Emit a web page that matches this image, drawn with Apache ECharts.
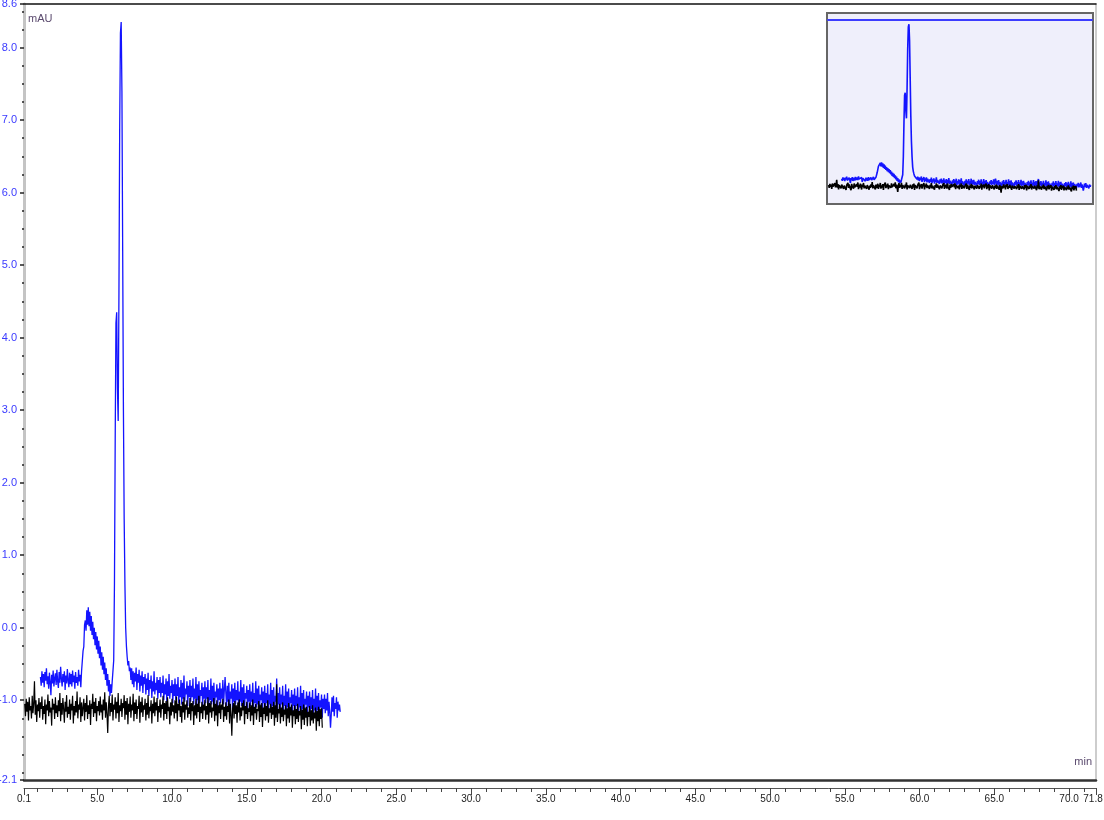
<!DOCTYPE html>
<html>
<head>
<meta charset="utf-8">
<script src="https://cdn.jsdelivr.net/npm/echarts@6/dist/echarts.min.js"></script>
<style>
html,body{margin:0;padding:0;background:#fff;}
#chart{width:1104px;height:820px;}
</style>
</head>
<body>
<div id="chart"></div>
<script>
// ---- axes ----
const xMin = 0.1, xMax = 71.8;
const yMin = -2.1, yMax = 8.6;
const xTickLabels = [0.1, 5, 10, 15, 20, 25, 30, 35, 40, 45, 50, 55, 60, 65, 70, 71.8];
const yTickLabels = [-2.1, -1, 0, 1, 2, 3, 4, 5, 6, 7, 8, 8.6];
const xMinorStep = 1;
const yMinorStep = 0.25;
const insetXMax = 21.3;
const yUnit = 'mAU';
const xUnit = 'min';

// ---- blue trace (sampled every 0.05 min from 1.2 min) ----
const blueStart = 1.2, blueStep = 0.05;
const blueValues = [
-0.68,-0.80,-0.60,-0.76,-0.64,-0.82,-0.61,-0.73,-0.56,-0.78,-0.67,-0.84,-0.62,-0.75,-0.93,-0.65,-0.77,-0.59,-0.81,-0.70,
-0.63,-0.79,-0.58,-0.74,-0.83,-0.61,-0.76,-0.54,-0.70,-0.81,-0.64,-0.75,-0.60,-0.86,-0.66,-0.77,-0.57,-0.73,-0.82,-0.62,
-0.78,-0.64,-0.81,-0.59,-0.75,-0.66,-0.84,-0.61,-0.76,-0.68,-0.80,-0.58,-0.74,-0.65,-0.82,-0.60,-0.58,-0.32,-0.26,0.04,
0.10,-0.04,0.24,0.04,0.28,0.02,0.22,-0.04,0.16,-0.10,0.08,-0.16,0.00,-0.24,-0.06,-0.30,-0.12,-0.36,-0.18,-0.42,
-0.26,-0.52,-0.34,-0.58,-0.40,-0.64,-0.48,-0.72,-0.56,-0.80,-0.64,-0.88,-0.72,-0.94,-0.78,-0.90,-0.74,-0.76,-0.45,0.6,
2.6,4.2,4.35,3.3,2.85,4.6,6.9,8.2,8.35,7.4,5.2,3.0,1.5,0.6,0.0,-0.25,-0.40,-0.52,-0.46,-0.60,
-0.55,-0.72,-0.56,-0.78,-0.60,-0.82,-0.62,-0.74,-0.55,-0.86,-0.64,-0.76,-0.58,-0.88,-0.66,-0.80,-0.60,-0.90,-0.68,-0.78,
-0.64,-0.92,-0.70,-0.86,-0.62,-0.94,-0.72,-0.84,-0.66,-0.97,-0.74,-0.88,-0.60,-0.92,-0.76,-0.86,-0.68,-0.98,-0.72,-0.90,
-0.68,-0.96,-0.76,-0.90,-0.66,-1.00,-0.78,-0.92,-0.70,-1.02,-0.74,-0.94,-0.64,-0.98,-0.80,-0.90,-0.72,-1.04,-0.78,-0.94,
-0.70,-1.00,-0.78,-0.94,-0.68,-1.04,-0.82,-0.96,-0.72,-1.06,-0.76,-0.98,-0.66,-1.02,-0.84,-0.92,-0.74,-1.08,-0.80,-0.96,
-0.72,-1.02,-0.80,-0.96,-0.70,-1.06,-0.84,-0.98,-0.68,-1.08,-0.78,-1.00,-0.74,-1.04,-0.86,-0.94,-0.76,-1.10,-0.82,-0.98,
-0.74,-1.04,-0.82,-0.98,-0.72,-1.08,-0.86,-1.00,-0.70,-1.06,-0.80,-1.02,-0.76,-1.08,-0.88,-0.96,-0.78,-1.12,-0.84,-1.00,
-0.76,-1.04,-0.84,-0.98,-0.72,-1.06,-0.86,-0.68,-0.90,-1.08,-0.80,-1.02,-0.76,-1.10,-0.88,-0.98,-0.78,-1.12,-0.84,-1.02,
-0.76,-1.06,-0.86,-1.00,-0.74,-1.10,-0.88,-1.02,-0.72,-1.08,-0.82,-1.04,-0.78,-1.12,-0.90,-0.98,-0.80,-1.14,-0.86,-1.02,
-0.78,-1.08,-0.88,-1.02,-0.76,-1.12,-0.90,-1.04,-0.74,-1.10,-0.84,-1.06,-0.80,-1.14,-0.92,-1.00,-0.82,-1.16,-0.88,-1.04,
-0.80,-1.10,-0.90,-1.04,-0.78,-1.14,-0.92,-1.06,-0.76,-1.12,-0.86,-1.08,-0.82,-1.16,-0.94,-1.02,-0.70,-1.18,-0.90,-1.06,
-0.82,-1.12,-0.92,-1.06,-0.80,-1.16,-0.94,-1.08,-0.78,-1.14,-0.88,-1.10,-0.84,-1.18,-0.96,-1.04,-0.86,-1.20,-0.92,-1.08,
-0.84,-1.14,-0.94,-1.08,-0.82,-1.18,-0.96,-1.10,-0.80,-1.16,-0.90,-1.12,-0.86,-1.20,-0.98,-1.06,-0.88,-1.22,-0.94,-1.10,
-0.88,-1.16,-0.96,-1.12,-0.86,-1.20,-0.98,-1.14,-0.84,-1.18,-0.94,-1.14,-0.90,-1.22,-1.00,-1.10,-0.92,-1.24,-0.98,-1.12,
-0.92,-1.18,-0.98,-1.14,-0.90,-1.22,-1.02,-1.16,-1.38,-1.20,-0.96,-1.16,-0.94,-1.22,-1.04,-1.12,-0.96,-1.24,-1.02,-1.14,
-1.06,-1.16
];

// ---- black trace (sampled every 0.05 min from 0.15 min) ----
const blackStart = 0.15, blackStep = 0.05;
const blackValues = [
-1.05,-1.22,-0.98,-1.16,-1.02,-1.28,-0.96,-1.14,-1.08,-1.25,-0.94,-1.18,-1.04,-0.74,-1.20,-1.00,-1.30,-1.06,-1.15,-0.97,
-1.24,-1.03,-1.12,-0.95,-1.27,-1.08,-1.19,-0.99,-1.33,-1.06,-1.14,-0.92,-1.22,-1.01,-1.17,-1.10,-1.35,-0.98,-1.13,-1.05,
-1.26,-0.96,-1.18,-1.07,-1.23,-1.00,-1.15,-0.90,-1.29,-1.04,-1.20,-0.97,-1.12,-1.31,-1.02,-1.16,-0.93,-1.24,-1.09,-1.19,
-0.99,-1.27,-1.05,-1.14,-0.94,-1.32,-1.08,-1.21,-1.01,-1.17,-0.88,-1.25,-1.06,-1.13,-0.96,-1.30,-1.03,-1.22,-1.10,-0.98,
-1.28,-1.04,-1.16,-0.93,-1.26,-1.07,-1.19,-1.00,-1.34,-1.05,-1.12,-0.91,-1.23,-1.02,-1.18,-0.97,-1.29,-1.08,-1.15,-1.01,
-1.21,-0.95,-1.17,-1.06,-1.27,-0.99,-1.14,-0.89,-1.24,-1.03,-1.19,-1.45,-1.08,-0.94,-1.22,-1.04,-1.16,-0.92,-1.28,-1.06,
-1.13,-0.96,-1.25,-1.02,-1.18,-0.90,-1.30,-1.07,-1.15,-0.98,-1.23,-1.04,-1.11,-0.93,-1.27,-1.01,-1.20,-0.97,-1.33,-1.05,
-1.16,-0.95,-1.24,-1.06,-1.14,-0.91,-1.29,-1.03,-1.19,-0.99,-1.26,-1.08,-1.12,-0.94,-1.31,-1.02,-1.17,-0.96,-1.23,-1.07,
-1.13,-0.98,-1.28,-1.04,-1.20,-0.93,-1.25,-1.09,-1.15,-1.00,-1.32,-1.05,-1.18,-0.95,-1.22,-1.03,-1.14,-0.97,-1.30,-1.08,
-1.17,-0.99,-1.24,-1.06,-1.12,-0.94,-1.28,-1.04,-1.19,-1.01,-1.26,-0.96,-1.15,-1.09,-1.33,-1.03,-1.21,-0.98,-1.16,-1.07,
-1.25,-1.00,-1.18,-0.95,-1.29,-1.05,-1.14,-0.99,-1.23,-1.08,-1.31,-1.02,-1.17,-0.96,-1.27,-1.06,-1.13,-1.00,-1.24,-1.10,
-1.19,-0.97,-1.28,-1.04,-1.15,-1.01,-1.34,-1.07,-1.21,-0.98,-1.25,-1.05,-1.16,-0.94,-1.30,-1.09,-1.18,-1.02,-1.26,-1.06,
-1.14,-0.99,-1.27,-1.08,-1.20,-0.96,-1.32,-1.04,-1.17,-1.01,-1.24,-1.10,-1.15,-0.97,-1.29,-1.05,-1.21,-1.00,-1.36,-1.07,
-1.18,-1.02,-1.26,-1.06,-1.13,-0.98,-1.30,-1.09,-1.22,-1.03,-1.27,-1.08,-1.16,-0.99,-1.32,-1.05,-1.20,-1.49,-1.12,-1.04,
-1.25,-1.01,-1.19,-1.07,-1.31,-1.03,-1.17,-0.99,-1.28,-1.10,-1.22,-1.04,-1.14,-1.00,-1.33,-1.08,-1.19,-1.02,-1.26,-1.11,
-1.16,-1.03,-1.29,-1.07,-1.21,-0.99,-1.34,-1.09,-1.18,-1.05,-1.27,-1.12,-1.15,-1.01,-1.30,-1.06,-1.23,-1.04,-1.37,-1.10,
-1.19,-1.04,-1.28,-1.08,-1.22,-1.00,-1.31,-1.11,-1.17,-1.05,-1.26,-1.09,-1.20,-1.02,-1.35,-1.07,-1.24,-0.78,-1.30,-1.12,
-1.18,-1.05,-1.32,-1.10,-1.23,-1.03,-1.29,-1.13,-1.20,-1.07,-1.36,-1.11,-1.25,-1.04,-1.31,-1.09,-1.21,-1.06,-1.38,-1.14,
-1.22,-1.07,-1.33,-1.12,-1.26,-1.05,-1.30,-1.15,-1.21,-1.08,-1.40,-1.13,-1.27,-1.06,-1.34,-1.10,-1.24,-1.09,-1.36,-1.16,
-1.23,-1.08,-1.35,-1.14,-1.28,-1.07,-1.32,-1.17,-1.25,-1.10,-1.42,-1.15,-1.29,-1.09,-1.36,-1.12,-1.26,-1.11,-1.38
];

// ---- build ----
const toPairs = (start, step, vals) => vals.map((v, i) => [+(start + i * step).toFixed(3), v]);
const blueData = toPairs(blueStart, blueStep, blueValues);
const blackData = toPairs(blackStart, blackStep, blackValues);

const xMinor = [];
for (let t = Math.ceil(xMin); t <= xMax; t += xMinorStep) xMinor.push(t);
const yMinor = [];
for (let v = Math.ceil(yMin / yMinorStep) * yMinorStep; v <= yMax + 1e-9; v += yMinorStep) yMinor.push(+v.toFixed(2));

const FONT = '"Liberation Sans Narrow", "Liberation Sans", Arial, sans-serif';
const fmt1 = v => (+v).toFixed(1);
const fmtX = v => (Math.abs(v - xMax) < 1e-9 ? '{e|' + fmt1(v) + '}' : fmt1(v));

const chart = echarts.init(document.getElementById('chart'), null, {renderer: 'canvas'});
const baseX = {type: 'value', min: xMin, max: xMax, gridIndex: 0, splitLine: {show: false}};
const baseY = {type: 'value', min: yMin, max: yMax, gridIndex: 0, splitLine: {show: false}};

chart.setOption({
  animation: false,
  backgroundColor: '#ffffff',
  title: [
    {text: yUnit, left: 28, top: 13, padding: 0, textStyle: {fontFamily: FONT, fontSize: 11, fontWeight: 'normal', color: '#5b4a6e'}},
    {text: xUnit, right: 12, top: 756, padding: 0, textStyle: {fontFamily: FONT, fontSize: 11, fontWeight: 'normal', color: '#5b4a6e'}}
  ],
  graphic: [
    {type: 'rect', z: 0, shape: {x: 827, y: 13, width: 266, height: 191},
     style: {fill: '#efeffb', stroke: '#666666', lineWidth: 2}}
  ],
  grid: [
    {left: 24, right: 8, top: 4, bottom: 40, containLabel: false, outerBoundsMode: 'none'},
    {left: 828, top: 20, width: 264, height: 183, containLabel: false, outerBoundsMode: 'none'}
  ],
  xAxis: [
    Object.assign({}, baseX, {position: 'bottom', axisLine: {show: true, onZero: false, lineStyle: {color: '#333', width: 2.5}},
      axisTick: {show: false}, axisLabel: {show: false}}),
    Object.assign({}, baseX, {position: 'bottom', offset: 8,
      axisLine: {show: true, onZero: false, lineStyle: {color: '#555', width: 1}},
      axisTick: {show: true, customValues: xTickLabels, length: 7, lineStyle: {color: '#444'}},
      axisLabel: {show: true, customValues: xTickLabels, formatter: fmtX, margin: 6,
        fontFamily: FONT, fontSize: 10, color: '#222',
        rich: {e: {fontFamily: FONT, fontSize: 10, color: '#222', padding: [0, 6, 0, 0]}}}}),
    Object.assign({}, baseX, {position: 'bottom', offset: 8, axisLine: {show: false, onZero: false},
      axisTick: {show: true, customValues: xMinor, length: 4, lineStyle: {color: '#444'}},
      axisLabel: {show: false}}),
    Object.assign({}, baseX, {position: 'top', axisLine: {show: true, onZero: false, lineStyle: {color: '#111', width: 1.5}},
      axisTick: {show: false}, axisLabel: {show: false}}),
    {type: 'value', gridIndex: 1, min: xMin, max: insetXMax, position: 'top', splitLine: {show: false},
      axisLine: {show: true, onZero: false, lineStyle: {color: '#3c3cff', width: 2}},
      axisTick: {show: false}, axisLabel: {show: false}}
  ],
  yAxis: [
    Object.assign({}, baseY, {position: 'left',
      axisLine: {show: true, onZero: false, lineStyle: {color: '#c4c4c4', width: 3}},
      axisTick: {show: true, customValues: yTickLabels, length: 4, lineStyle: {color: '#222', width: 1.5}},
      axisLabel: {show: true, customValues: yTickLabels, formatter: fmt1, margin: 7,
        fontFamily: FONT, fontSize: 11, color: '#3a3aff'}}),
    Object.assign({}, baseY, {position: 'left', axisLine: {show: false, onZero: false},
      axisTick: {show: true, customValues: yMinor, length: 2, lineStyle: {color: '#222', width: 1.5}},
      axisLabel: {show: false}}),
    Object.assign({}, baseY, {position: 'right',
      axisLine: {show: true, onZero: false, lineStyle: {color: '#bdbdbd', width: 1.5}},
      axisTick: {show: false}, axisLabel: {show: false}}),
    {type: 'value', gridIndex: 1, min: yMin, max: yMax, show: false, splitLine: {show: false}}
  ],
  series: [
    {type: 'line', name: 'blue', xAxisIndex: 0, yAxisIndex: 0, data: blueData, showSymbol: false,
      symbol: 'none', lineStyle: {color: '#1414ff', width: 1.3}, silent: true, z: 3},
    {type: 'line', name: 'black', xAxisIndex: 0, yAxisIndex: 0, data: blackData, showSymbol: false,
      symbol: 'none', lineStyle: {color: '#000000', width: 1.2}, silent: true, z: 4},
    {type: 'line', name: 'blue-inset', xAxisIndex: 4, yAxisIndex: 3, data: blueData, showSymbol: false,
      symbol: 'none', lineStyle: {color: '#1414ff', width: 1.6}, silent: true, z: 3},
    {type: 'line', name: 'black-inset', xAxisIndex: 4, yAxisIndex: 3, data: blackData, showSymbol: false,
      symbol: 'none', lineStyle: {color: '#000000', width: 1.6}, silent: true, z: 4}
  ]
});
</script>
</body>
</html>
